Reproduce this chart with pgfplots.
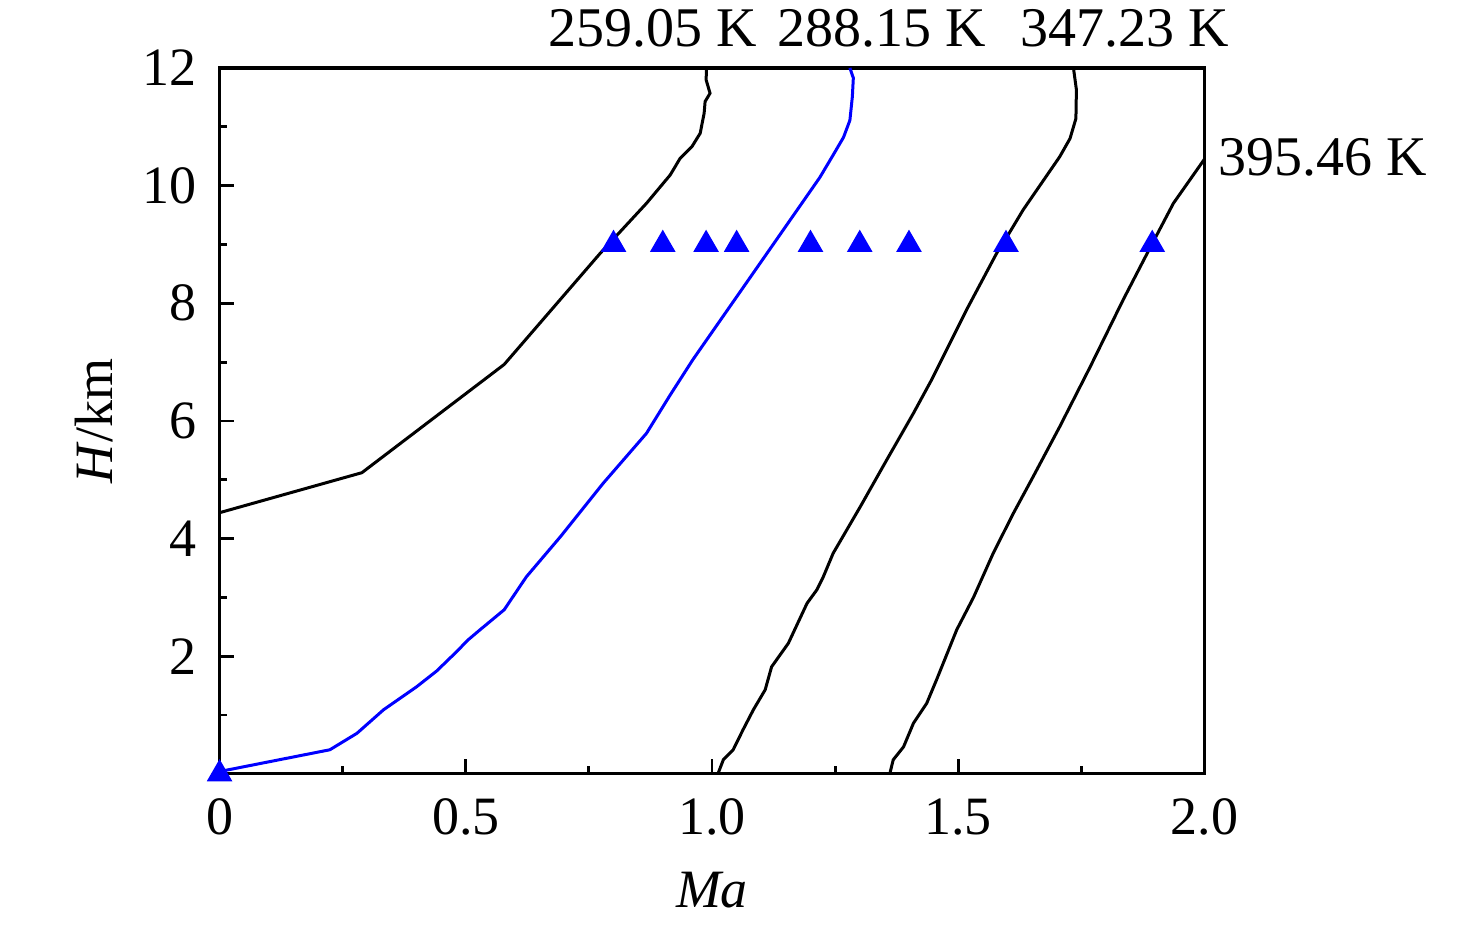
\documentclass[border=0pt]{standalone}
\usepackage{fontspec}
\setmainfont{Liberation Serif}
\usepackage{pgfplots}
\pgfplotsset{compat=1.18}
\definecolor{pureblue}{RGB}{0,0,255}
\begin{document}
\fontsize{13.5}{16}\selectfont
\begin{tikzpicture}
\begin{axis}[
  name=ax,
  scale only axis,
  width=246.25pt, height=176.5pt,
  xmin=0, xmax=2, ymin=0, ymax=12,
  xtick={0,0.5,1,1.5,2},
  xticklabels={0,0.5,1.0,1.5,2.0},
  minor xtick={0.25,0.75,1.25,1.75},
  ytick={2,4,6,8,10,12},
  minor ytick={1,3,5,7,9,11},
  tick align=inside,
  tick pos=left,
  major tick length=3.7pt,
  minor tick length=1.85pt,
  every tick/.style={black, line width=0.7pt},
  axis line style={line width=0.8pt},
  /pgf/number format/assume math mode=true,
  yticklabel style={xshift=-1pt},
  xticklabel style={yshift=-1.5pt},
  xlabel={\textit{Ma}},
  ylabel={\textit{H}/km},
  xlabel style={at={(axis description cs:0.5,-0.1898)}, anchor=base},
  ylabel style={at={(axis description cs:-0.1092,0.5)}, anchor=base},
  clip=false,
]
% 259.05 K
\addplot[black, line width=0.75pt] coordinates {
(0,4.44) (0.289,5.12) (0.578,6.96) (0.773,8.85) (0.867,9.70) (0.915,10.18)
(0.935,10.46) (0.959,10.66) (0.976,10.89) (0.984,11.23) (0.986,11.43) (0.996,11.57)
(0.988,11.80) (0.989,12.0)
};
% 288.15 K
\addplot[pureblue, line width=0.75pt] coordinates {
(0,0.04) (0.224,0.41) (0.279,0.69) (0.333,1.09) (0.400,1.48) (0.441,1.75) (0.478,2.05)
(0.505,2.28) (0.529,2.45) (0.578,2.79) (0.623,3.35) (0.692,4.03) (0.779,4.94) (0.867,5.79)
(0.915,6.44) (0.961,7.04) (1.145,9.25) (1.219,10.14) (1.246,10.52)
(1.267,10.82) (1.280,11.11) (1.285,11.51) (1.287,11.83) (1.280,12.0)
};
% 347.23 K
\addplot[black, line width=0.75pt] coordinates {
(1.012,0.0) (1.023,0.24) (1.043,0.41) (1.063,0.75) (1.084,1.09) (1.108,1.43) (1.121,1.82)
(1.155,2.22) (1.193,2.90) (1.213,3.13) (1.226,3.35) (1.246,3.75) (1.301,4.54) (1.355,5.34)
(1.409,6.13) (1.446,6.70) (1.517,7.89) (1.578,8.85) (1.599,9.13) (1.632,9.59) (1.706,10.49)
(1.727,10.80) (1.739,11.14) (1.740,11.63) (1.734,12.0)
};
% 395.46 K
\addplot[black, line width=0.75pt] coordinates {
(1.361,0.0) (1.368,0.24) (1.389,0.46) (1.409,0.86) (1.436,1.20) (1.456,1.60) (1.497,2.45)
(1.531,3.00) (1.571,3.75) (1.612,4.43) (1.652,5.05) (1.706,5.90) (1.768,6.92) (1.835,8.06)
(1.890,8.95) (1.937,9.70) (2.0,10.45)
};
% markers
\addplot[only marks, mark=triangle*, mark size=3.3pt, pureblue, mark options={draw=pureblue, fill=pureblue}] coordinates {
(0,0) (0.80,9) (0.90,9) (0.988,9) (1.05,9) (1.20,9) (1.30,9) (1.40,9) (1.597,9) (1.894,9)
};
\node[anchor=base, inner sep=0pt, font=\fontsize{14}{16}\selectfont] at (axis cs:0.880,12.36) {259.05 K};
\node[anchor=base, inner sep=0pt, font=\fontsize{14}{16}\selectfont] at (axis cs:1.344,12.36) {288.15 K};
\node[anchor=base, inner sep=0pt, font=\fontsize{14}{16}\selectfont] at (axis cs:1.839,12.36) {347.23 K};
\node[anchor=base west, inner sep=0pt, font=\fontsize{14}{16}\selectfont] at (axis cs:2.027,10.18) {395.46 K};
\end{axis}
\pgfresetboundingbox
\path[use as bounding box] ([shift={(-54.9pt,-38.5pt)}]ax.south west) rectangle ([shift={(67.9pt,17pt)}]ax.north east);
\end{tikzpicture}
\end{document}
